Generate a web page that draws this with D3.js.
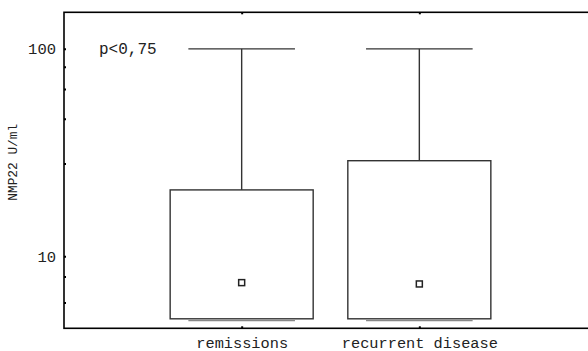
<!DOCTYPE html>
<html>
<head>
<meta charset="utf-8">
<script src="https://cdn.jsdelivr.net/npm/d3@7"></script>
<style>
  body { margin: 0; background: #fff; }
  text { font-family: "Liberation Mono", "DejaVu Sans Mono", monospace; fill: #222; }
</style>
</head>
<body>
<div id="chart"></div>
<script>
// box plot data, NMP22 U/ml (log scale)
var categories = ['remissions', 'recurrent disease'];
var maxValues = [100, 100];
var q3Values = [20.9, 28.9];
var q1Values = [5.0, 5.0];
var minValues = [4.9, 4.9];
var medianValues = [7.47, 7.36];
var majorTicks = [10, 100];
var minorTicks = [6, 8, 28, 46, 64, 82];
var pLabel = 'p<0,75';

var width = 588, height = 351;
// note: "top" is reserved on window, so plot edges get their own names
var plotLeft = 64, plotTop = 12.3, plotBottom = 328.3, plotRight = 597;

var svg = d3.select('#chart')
  .append('svg')
  .attr('width', width)
  .attr('height', height);

var y = d3.scaleLog()
  .domain([4.5, 150])
  .range([plotBottom, plotTop]);

var x = d3.scalePoint()
  .domain(categories)
  .range([plotLeft, plotRight])
  .padding(1);

var step = x.step();
var boxW = step * 0.805;
var capW = step * 0.6;

var data = categories.map(function(c, i) {
  return {cat: c, max: maxValues[i], q3: q3Values[i], q1: q1Values[i], min: minValues[i], med: medianValues[i]};
});

var g = svg.append('g');

// whiskers
g.selectAll('.whisker')
  .data(data)
  .enter()
  .append('line')
  .attr('x1', d => x(d.cat)).attr('x2', d => x(d.cat))
  .attr('y1', d => y(d.max)).attr('y2', d => y(d.q3))
  .attr('stroke', '#333').attr('stroke-width', 1.4);

g.selectAll('.capTop')
  .data(data)
  .enter()
  .append('line')
  .attr('x1', d => x(d.cat) - capW / 2).attr('x2', d => x(d.cat) + capW / 2)
  .attr('y1', d => y(d.max)).attr('y2', d => y(d.max))
  .attr('stroke', '#333').attr('stroke-width', 1.4);

g.selectAll('.capBottom')
  .data(data)
  .enter()
  .append('line')
  .attr('x1', d => x(d.cat) - capW / 2).attr('x2', d => x(d.cat) + capW / 2)
  .attr('y1', d => y(d.min)).attr('y2', d => y(d.min))
  .attr('stroke', '#888').attr('stroke-width', 1.2);

// boxes
g.selectAll('.box')
  .data(data)
  .enter()
  .append('rect')
  .attr('x', d => x(d.cat) - boxW / 2)
  .attr('width', boxW)
  .attr('y', d => y(d.q3))
  .attr('height', d => y(d.q1) - y(d.q3))
  .attr('fill', 'none')
  .attr('stroke', '#333').attr('stroke-width', 1.4);

// median markers
g.selectAll('.med')
  .data(data)
  .enter()
  .append('rect')
  .attr('x', d => x(d.cat) - 3)
  .attr('y', d => y(d.med) - 3)
  .attr('width', 6).attr('height', 6)
  .attr('fill', '#fff')
  .attr('stroke', '#222').attr('stroke-width', 1.5);

// frame
svg.append('rect')
  .attr('x', plotLeft).attr('y', plotTop)
  .attr('width', plotRight - plotLeft).attr('height', plotBottom - plotTop)
  .attr('fill', 'none')
  .attr('stroke', '#000').attr('stroke-width', 1.6);

// y axis
var yAxis = d3.axisLeft(y)
  .tickValues(majorTicks)
  .tickFormat(d3.format('d'))
  .tickSize(-2)
  .tickPadding(8);

var ya = svg.append('g')
  .attr('transform', `translate(${plotLeft},0)`)
  .call(yAxis);
ya.select('.domain').remove();
ya.selectAll('line').attr('stroke', '#000').attr('stroke-width', 2);
ya.selectAll('text').style('font-size', '15.5px').style('font-family', '"Liberation Mono", monospace').attr('fill', '#222');

var yMinor = d3.axisLeft(y)
  .tickValues(minorTicks)
  .tickFormat('')
  .tickSize(-2);
var ym = svg.append('g')
  .attr('transform', `translate(${plotLeft},0)`)
  .call(yMinor);
ym.select('.domain').remove();
ym.selectAll('line').attr('stroke', '#000').attr('stroke-width', 2);

// x axis ticks (bottom and top)
var xAxis = d3.axisBottom(x).tickSize(-2).tickPadding(8.5);
var xa = svg.append('g')
  .attr('transform', `translate(0,${plotBottom})`)
  .call(xAxis);
xa.select('.domain').remove();
xa.selectAll('line').attr('stroke', '#000').attr('stroke-width', 2);
xa.selectAll('text').style('font-size', '15.3px').style('font-family', '"Liberation Mono", monospace').attr('fill', '#222');

var xTop = d3.axisTop(x).tickSize(-2).tickFormat('');
var xt = svg.append('g')
  .attr('transform', `translate(0,${plotTop})`)
  .call(xTop);
xt.select('.domain').remove();
xt.selectAll('line').attr('stroke', '#000').attr('stroke-width', 2);

// y label
svg.append('text')
  .attr('transform', `translate(17,${(plotTop + plotBottom) / 2 - 8}) rotate(-90)`)
  .attr('text-anchor', 'middle')
  .style('font-size', '12.8px')
  .text('NMP22 U/ml');

// p-value annotation
svg.append('text')
  .attr('x', 99)
  .attr('y', y(100) + 5)
  .style('font-size', '16px')
  .text(pLabel);
</script>
</body>
</html>
